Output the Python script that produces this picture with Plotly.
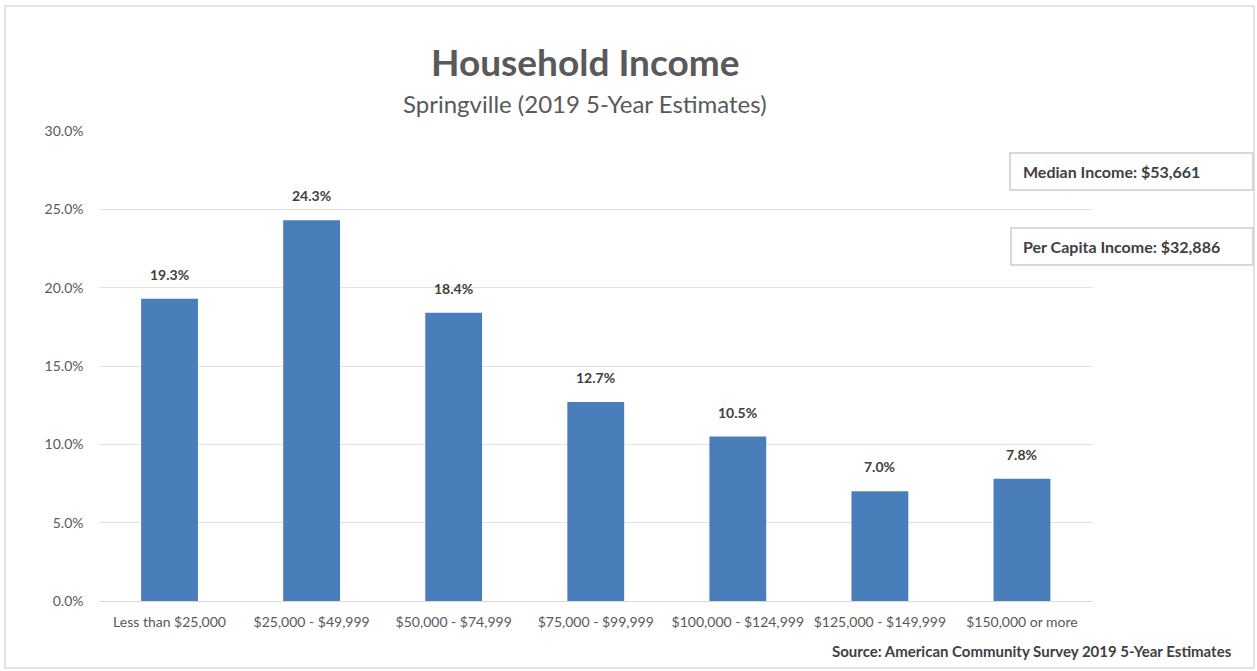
import plotly.graph_objects as go

# Household income distribution, Springville (ACS 2019 5-year)
categories = [
    "Less than $25,000",
    "$25,000 - $49,999",
    "$50,000 - $74,999",
    "$75,000 - $99,999",
    "$100,000 - $124,999",
    "$125,000 - $149,999",
    "$150,000 or more",
]
shares = [19.3, 24.3, 18.4, 12.7, 10.5, 7.0, 7.8]
y_ticks = [0, 5, 10, 15, 20, 25, 30]
median_income = "$53,661"
per_capita_income = "$32,886"

W, H = 1257, 671
FONT = "Lato"
GRAY = "#595959"
DARK = "#404040"


def px_x(x):
    return x / W


def px_y(y):
    return 1 - y / H


fig = go.Figure(
    go.Bar(
        x=categories,
        y=shares,
        marker=dict(color="#4a7ebb", line=dict(width=0)),
        hoverinfo="skip",
    )
)

shapes = [
    # outer frame
    dict(type="rect", xref="paper", yref="paper",
         x0=px_x(5), x1=px_x(1254), y0=px_y(668), y1=px_y(6),
         line=dict(color="#dcd8d8", width=1.5), fillcolor="rgba(0,0,0,0)"),
    # info boxes
    dict(type="rect", xref="paper", yref="paper",
         x0=px_x(1010), x1=px_x(1253), y0=px_y(190), y1=px_y(153),
         line=dict(color="#d0cccc", width=1.5), fillcolor="white"),
    dict(type="rect", xref="paper", yref="paper",
         x0=px_x(1011), x1=px_x(1253), y0=px_y(265), y1=px_y(228),
         line=dict(color="#d0cccc", width=1.5), fillcolor="white"),
]

# value labels above each bar
annotations = [
    dict(x=c, y=v, xref="x", yref="y", text=f"<b>{v:.1f}%</b>",
         showarrow=False, yanchor="bottom", yshift=14,
         font=dict(family=FONT, size=14, color=DARK))
    for c, v in zip(categories, shares)
]

annotations += [
    dict(text="<b>Household Income</b>", xref="paper", yref="paper",
         x=px_x(585), y=px_y(61), xanchor="center", yanchor="middle",
         showarrow=False, font=dict(family=FONT, size=37, color=GRAY)),
    dict(text="Springville (2019 5-Year Estimates)", xref="paper", yref="paper",
         x=px_x(585), y=px_y(103), xanchor="center", yanchor="middle",
         showarrow=False, font=dict(family=FONT, size=24, color=GRAY)),
    dict(text=f"<b>Median Income: {median_income}</b>", xref="paper", yref="paper",
         x=px_x(1021), y=px_y(171), xanchor="left", yanchor="middle",
         showarrow=False, font=dict(family=FONT, size=16, color=DARK)),
    dict(text=f"<b>Per Capita Income: {per_capita_income}</b>", xref="paper", yref="paper",
         x=px_x(1021), y=px_y(246), xanchor="left", yanchor="middle",
         showarrow=False, font=dict(family=FONT, size=16, color=DARK)),
    dict(text="<b>Source: American Community Survey 2019 5-Year Estimates</b>",
         xref="paper", yref="paper",
         x=px_x(1234), y=px_y(651), xanchor="right", yanchor="middle",
         showarrow=False, font=dict(family=FONT, size=15, color=DARK)),
]

fig.update_layout(
    width=W,
    height=H,
    margin=dict(l=0, r=0, t=0, b=0),
    paper_bgcolor="white",
    plot_bgcolor="white",
    showlegend=False,
    bargap=0.6,
    shapes=shapes,
    annotations=annotations,
    xaxis=dict(
        domain=[px_x(98.5), px_x(1093)],
        automargin=False,
        showgrid=False,
        showline=True,
        linecolor="#d9d9d9",
        linewidth=1,
        ticks="",
        ticklabelstandoff=8,
        tickfont=dict(family=FONT, size=14, color=GRAY),
        fixedrange=True,
    ),
    yaxis=dict(
        domain=[px_y(601), px_y(131)],
        automargin=False,
        range=[0, 30],
        tickvals=y_ticks,
        ticktext=[f"{v:.1f}%" for v in y_ticks],
        showgrid=True,
        gridcolor="#e3e3e3",
        gridwidth=1,
        zeroline=False,
        showline=False,
        ticks="",
        ticklabelstandoff=14,
        tickfont=dict(family=FONT, size=14, color=GRAY),
        fixedrange=True,
    ),
)

fig.write_html("out.html", config={"displayModeBar": False})
